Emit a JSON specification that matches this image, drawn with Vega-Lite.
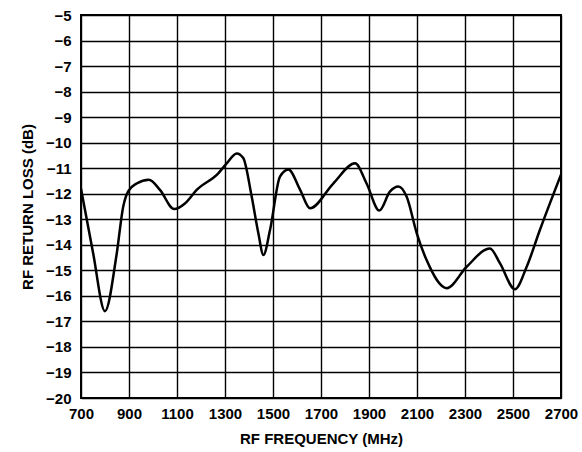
{
  "$schema": "https://vega.github.io/schema/vega-lite/v6.json",
  "autosize": "none",
  "width": 480,
  "height": 383,
  "padding": {"left": 81, "top": 15, "right": 21, "bottom": 54},
  "background": "white",
  "config": {
    "view": {"stroke": "black", "strokeWidth": 2},
    "font": "Liberation Sans",
    "axis": {
      "labelFont": "Liberation Sans",
      "labelFontWeight": "bold",
      "labelFontSize": 15,
      "labelColor": "black",
      "labelFlush": false,
      "labelOverlap": false,
      "titleFont": "Liberation Sans",
      "titleFontWeight": "bold",
      "titleFontSize": 15,
      "titleColor": "black",
      "ticks": false,
      "domain": false,
      "gridColor": "black",
      "gridOpacity": 1,
      "gridWidth": 1.4
    }
  },
  "data": {
    "values": [
      {"freq": 700, "loss": -11.8},
      {"freq": 750, "loss": -14.3},
      {"freq": 800, "loss": -16.6},
      {"freq": 848, "loss": -14.4},
      {"freq": 876, "loss": -12.5},
      {"freq": 897, "loss": -11.9},
      {"freq": 932, "loss": -11.6},
      {"freq": 983, "loss": -11.45},
      {"freq": 1029, "loss": -11.85},
      {"freq": 1088, "loss": -12.6},
      {"freq": 1133, "loss": -12.38},
      {"freq": 1182, "loss": -11.85},
      {"freq": 1272, "loss": -11.2},
      {"freq": 1307, "loss": -10.81},
      {"freq": 1349, "loss": -10.42},
      {"freq": 1376, "loss": -10.6},
      {"freq": 1411, "loss": -12.1},
      {"freq": 1439, "loss": -13.55},
      {"freq": 1460, "loss": -14.4},
      {"freq": 1488, "loss": -13.4},
      {"freq": 1529, "loss": -11.33},
      {"freq": 1564, "loss": -11.05},
      {"freq": 1613, "loss": -11.85},
      {"freq": 1654, "loss": -12.57},
      {"freq": 1751, "loss": -11.6},
      {"freq": 1842, "loss": -10.81},
      {"freq": 1890, "loss": -11.6},
      {"freq": 1943, "loss": -12.66},
      {"freq": 1987, "loss": -11.92},
      {"freq": 2022, "loss": -11.72},
      {"freq": 2057, "loss": -12.12},
      {"freq": 2099, "loss": -13.55},
      {"freq": 2140, "loss": -14.6},
      {"freq": 2224, "loss": -15.7},
      {"freq": 2307, "loss": -14.86},
      {"freq": 2404, "loss": -14.14},
      {"freq": 2446, "loss": -14.73},
      {"freq": 2508, "loss": -15.74},
      {"freq": 2557, "loss": -14.86},
      {"freq": 2612, "loss": -13.42},
      {"freq": 2700, "loss": -11.25}
    ]
  },
  "mark": {"type": "line", "color": "black", "strokeWidth": 2.5, "interpolate": "monotone", "clip": true},
  "encoding": {
    "x": {
      "field": "freq",
      "type": "quantitative",
      "scale": {"domain": [700, 2700], "nice": false, "zero": false},
      "axis": {
        "title": "RF FREQUENCY (MHz)",
        "values": [700, 900, 1100, 1300, 1500, 1700, 1900, 2100, 2300, 2500, 2700],
        "format": "d",
        "labelPadding": 8,
        "titlePadding": 10
      }
    },
    "y": {
      "field": "loss",
      "type": "quantitative",
      "scale": {"domain": [-20, -5], "nice": false, "zero": false},
      "axis": {
        "title": "RF RETURN LOSS (dB)",
        "values": [-20, -19, -18, -17, -16, -15, -14, -13, -12, -11, -10, -9, -8, -7, -6, -5],
        "format": "d",
        "labelPadding": 10,
        "titlePadding": 10
      }
    }
  }
}
